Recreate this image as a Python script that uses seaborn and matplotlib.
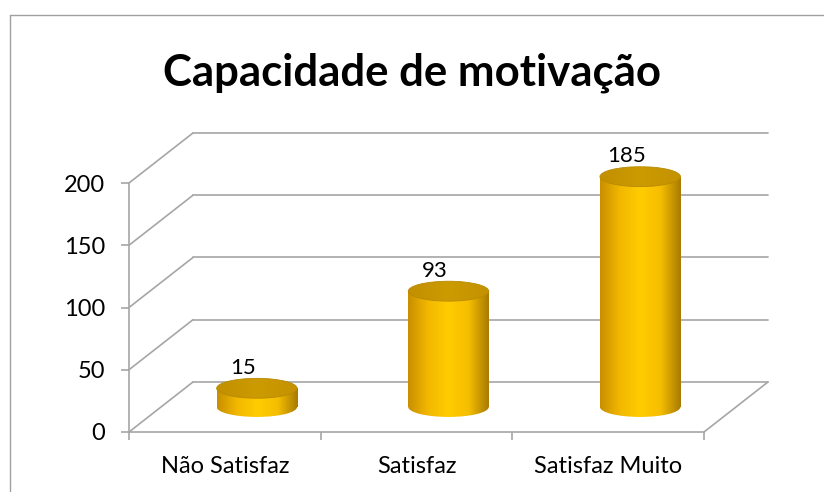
import matplotlib
matplotlib.use('Agg')
import matplotlib.pyplot as plt
import numpy as np
import seaborn as sns
from matplotlib.colors import LinearSegmentedColormap
from matplotlib.patches import Ellipse, Rectangle

# data
categories = ['Não Satisfaz', 'Satisfaz', 'Satisfaz Muito']
values = [15, 93, 185]
y_ticks = [0, 50, 100, 150, 200]

sns.set_theme(style='white')
plt.rcParams['font.family'] = ['Lato', 'DejaVu Sans']
plt.rcParams['text.color'] = 'black'

fig = plt.figure(figsize=(8.24, 4.92), dpi=100)
ax = fig.add_axes([129 / 824, 60 / 492, 575 / 824, 249 / 492])

grid_col = '#A6A6A6'
depth_x, depth_y = 0.334, 40.2   # back wall offset in data units
bar_w = 0.42
ell_h = 16

sns.barplot(x=categories, y=values, ax=ax, width=bar_w, color='#FFCC00')
ax.set_xlim(-0.5, 2.5)
ax.set_ylim(0, 200)

# perspective frame: walls and floor
for v in y_ticks:
    ax.plot([-0.5, -0.5 + depth_x], [v, v + depth_y], color=grid_col, lw=1.2, clip_on=False, zorder=1)
    ax.plot([-0.5 + depth_x, 2.5 + depth_x], [v + depth_y] * 2, color=grid_col, lw=1.2, clip_on=False, zorder=1)
ax.plot([2.5, 2.5 + depth_x], [0, depth_y], color=grid_col, lw=1.2, clip_on=False, zorder=1)

for s in ['top', 'right']:
    ax.spines[s].set_visible(False)
for s in ['left', 'bottom']:
    ax.spines[s].set_color(grid_col)
    ax.spines[s].set_linewidth(1.2)

ax.set_yticks(y_ticks)
ax.set_xticks([-0.5, 0.5, 1.5, 2.5], minor=True)
ax.tick_params(axis='x', which='major', length=0, labelsize=17, labelcolor='black', pad=17)
ax.tick_params(axis='x', which='minor', length=6, color=grid_col, width=1.2, bottom=True)
ax.tick_params(axis='y', length=6, color=grid_col, width=1.2, labelsize=17, labelcolor='black',
               left=True, pad=11)
ax.set_xlabel('')
ax.set_ylabel('')

# turn the flat bars into shaded cylinders standing halfway into the depth
cmap = LinearSegmentedColormap.from_list('gold', ['#C98F00', '#F2B800', '#FFCC00', '#F5BE00', '#A87A00'])
top_cmap = LinearSegmentedColormap.from_list('goldtop', ['#C29000', '#CC9A00', '#C49200'])
grad = np.linspace(0, 1, 256).reshape(1, -1)
for p, v in zip(ax.patches, values):
    x0 = p.get_x() + depth_x / 2
    p.set_x(x0)
    p.set_y(depth_y / 2)
    p.set_facecolor('none')
    p.set_edgecolor('none')
    base = depth_y / 2
    top = base + v
    xc = x0 + bar_w / 2
    # body: a Rectangle clip becomes the clip box, so it may rise above the axes
    img = ax.imshow(grad, cmap=cmap, aspect='auto', extent=(x0, x0 + bar_w, base - ell_h, top),
                    zorder=3)
    img.set_clip_path(Rectangle((x0, base), bar_w, v, transform=ax.transData))
    img2 = ax.imshow(grad, cmap=cmap, aspect='auto', extent=(x0, x0 + bar_w, base - ell_h, top),
                     zorder=3)
    img2.set_clip_path(Ellipse((xc, base), bar_w, ell_h, transform=ax.transData))
    img2.set_clip_box(fig.bbox)
    img3 = ax.imshow(grad, cmap=top_cmap, aspect='auto',
                     extent=(x0, x0 + bar_w, top - ell_h / 2, top + ell_h / 2), zorder=4)
    img3.set_clip_path(Ellipse((xc, top), bar_w, ell_h, transform=ax.transData))
    img3.set_clip_box(fig.bbox)
    ax.add_patch(Ellipse((xc, top), bar_w, ell_h, facecolor='none', edgecolor='#B88A00',
                         lw=0.6, zorder=5, clip_on=False))
    ax.text(xc - 0.07, top + ell_h / 2 + 0.5, str(v), ha='center', va='bottom', fontsize=16,
            color='black', zorder=6)

ax.set_xlim(-0.5, 2.5)
ax.set_ylim(0, 200)

fig.text(0.5, 0.853, 'Capacidade de motivação', ha='center', va='center',
         fontsize=31.5, fontweight='bold', color='black')

# outer chart border
fig.add_artist(plt.Line2D([10 / 824, 10 / 824], [0, 1 - 15 / 492], color='#A0A0A0', lw=1))
fig.add_artist(plt.Line2D([10 / 824, 1], [1 - 15 / 492, 1 - 15 / 492], color='#A0A0A0', lw=1))

fig.savefig('out.png', dpi=100)
